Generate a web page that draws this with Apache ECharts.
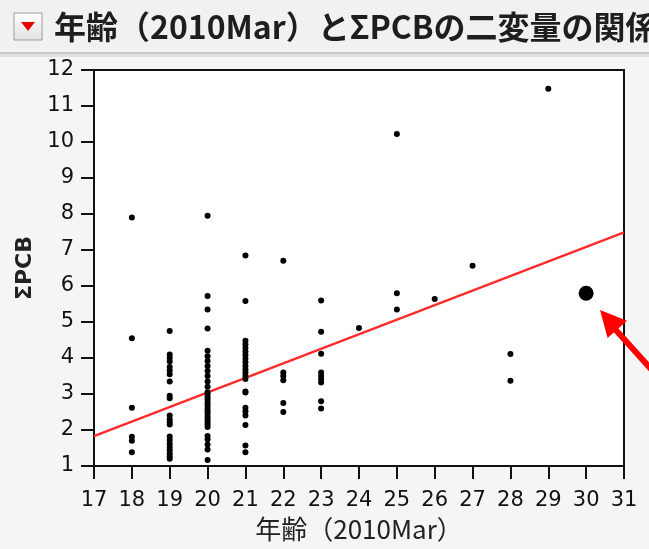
<!DOCTYPE html>
<html><head><meta charset="utf-8">
<script src="https://cdn.jsdelivr.net/npm/echarts@6/dist/echarts.min.js"></script>
<style>html,body{margin:0;padding:0;background:#f5f5f5;}#c{width:649px;height:549px;}</style>
</head><body><div id="c"></div>
<script>
// ΣPCB values read per age (years)
var age18 = [7.9, 4.55, 2.62, 1.81, 1.7, 1.38];
var age19 = [4.75, 4.1, 4.0, 3.9, 3.75, 3.65, 3.55, 3.35, 2.95, 2.88, 2.4, 2.3, 2.22, 2.15, 1.82, 1.72, 1.62, 1.53, 1.44, 1.35, 1.27, 1.2];
var age20 = [7.95, 5.72, 5.35, 4.82, 4.2, 4.05, 3.92, 3.78, 3.64, 3.5, 3.35, 3.2, 3.05, 2.98, 2.9, 2.83, 2.75, 2.68, 2.6, 2.52, 2.45, 2.37, 2.3, 2.22, 2.15, 2.08, 1.83, 1.74, 1.6, 1.46, 1.17];
var age21 = [6.85, 5.58, 4.48, 4.38, 4.28, 4.18, 4.08, 3.98, 3.88, 3.78, 3.68, 3.6, 3.5, 3.42, 3.07, 3.04, 2.62, 2.52, 2.4, 2.14, 1.57, 1.38];
var age22 = [6.7, 3.6, 3.5, 3.38, 2.75, 2.5];
var age23 = [5.6, 4.73, 4.12, 3.6, 3.5, 3.4, 3.32, 2.8, 2.6];
var age24 = [4.83];
var age25 = [10.22, 5.8, 5.35];
var age26 = [5.64];
var age27 = [6.56];
var age28 = [4.11, 3.37];
var age29 = [11.48];
var highlighted = [[30, 5.8]];
var fitLine = [[17, 1.83], [31, 7.49]];
var xTicks = [17, 31];
var yTicks = [1, 12];
var titleText = '年齢（2010Mar）とΣPCBの二変量の関係';
var xName = '年齢（2010Mar）';
var yName = 'ΣPCB';

var groups = [[18, age18], [19, age19], [20, age20], [21, age21], [22, age22], [23, age23],
  [24, age24], [25, age25], [26, age26], [27, age27], [28, age28], [29, age29]];
var pts = [];
groups.forEach(function (g) { g[1].forEach(function (v) { pts.push([g[0], v]); }); });

var chart = echarts.init(document.getElementById('c'));
var labelFont = '"DejaVu Sans", "Noto Sans CJK JP", sans-serif';
chart.setOption({
  backgroundColor: '#f5f5f5',
  animation: false,
  grid: { left: 94, top: 70, width: 530, height: 396, show: true, backgroundColor: '#fff', borderColor: '#111', borderWidth: 2 },
  xAxis: {
    type: 'value', min: xTicks[0], max: xTicks[1], interval: 1,
    name: xName, nameLocation: 'middle', nameGap: 50,
    nameTextStyle: { fontSize: 26, color: '#222', fontFamily: '"Noto Sans CJK JP", sans-serif' },
    axisLine: { lineStyle: { color: '#111', width: 2 } },
    axisTick: { show: true, inside: false, length: 13, lineStyle: { color: '#111', width: 2 } },
    axisLabel: { fontSize: 21, color: '#111', margin: 24, fontFamily: labelFont },
    splitLine: { show: false }
  },
  yAxis: {
    type: 'value', min: yTicks[0], max: yTicks[1], interval: 1,
    name: yName, nameLocation: 'middle', nameGap: 56, nameRotate: 90,
    nameTextStyle: { fontSize: 22, color: '#222', fontWeight: 'bold', fontFamily: labelFont },
    axisLine: { lineStyle: { color: '#111', width: 2 } },
    axisTick: { show: true, inside: false, length: 13, lineStyle: { color: '#111', width: 2 } },
    axisLabel: { fontSize: 21, color: '#111', margin: 20, fontFamily: labelFont },
    splitLine: { show: false }
  },
  series: [
    { type: 'line', data: fitLine, showSymbol: false, lineStyle: { color: '#ff2a2a', width: 2.2 }, z: 2 },
    { type: 'scatter', data: pts, symbolSize: 6, itemStyle: { color: '#000', opacity: 1 }, z: 3 },
    { type: 'scatter', data: highlighted, symbolSize: 15, itemStyle: { color: '#000', opacity: 1 }, z: 3 }
  ],
  graphic: [
    { type: 'rect', shape: { x: 0, y: 0, width: 649, height: 52 }, style: { fill: '#f1f1f1' }, z: 0 },
    { type: 'rect', shape: { x: 0, y: 52, width: 649, height: 2 }, style: { fill: '#c9c9c9' }, z: 1 },
    { type: 'rect', shape: { x: 0, y: 54, width: 649, height: 3 }, style: { fill: '#e0e0e0' }, z: 1 },
    { type: 'rect', shape: { x: 14, y: 13, width: 28, height: 27 },
      style: { fill: new echarts.graphic.LinearGradient(0, 0, 0, 1, [{ offset: 0, color: '#ffffff' }, { offset: 1, color: '#e2e2e2' }]), stroke: '#9a9a9a', lineWidth: 1 }, z: 2 },
    { type: 'polygon', shape: { points: [[21, 22], [35, 22], [28, 31]] }, style: { fill: '#e60000' }, z: 3 },
    { type: 'text', x: 54, y: 27, style: { text: titleText, font: 'bold 32px "Noto Sans CJK JP", sans-serif', fill: '#1e1e1e', verticalAlign: 'middle', textAlign: 'left' }, z: 3 },
    { type: 'line', shape: { x1: 614, y1: 328, x2: 660, y2: 379 }, style: { stroke: '#ff0000', lineWidth: 6 }, z: 100 },
    { type: 'polygon', shape: { points: [[600, 310], [607.6, 338], [627, 320.8]] }, style: { fill: '#ff0000' }, z: 100 }
  ]
});
</script></body></html>
